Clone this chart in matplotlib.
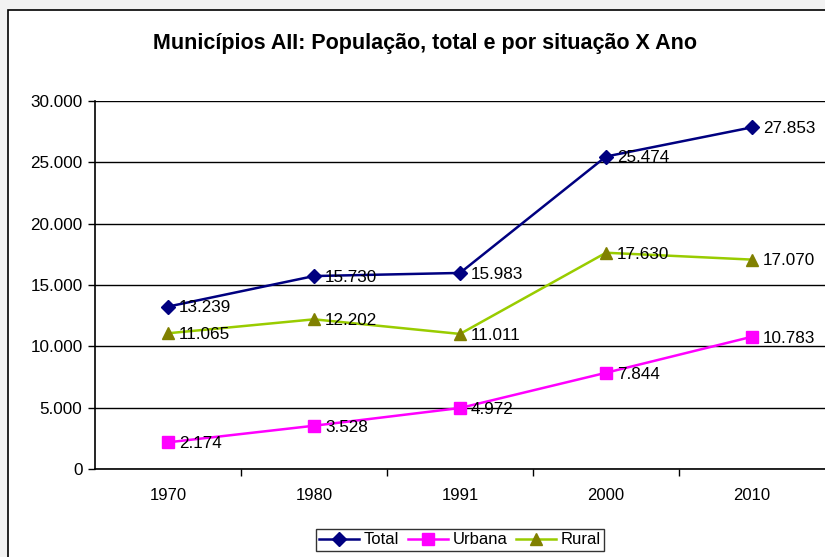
# =========================
# Municípios AII: população por situação
# =========================

import matplotlib.pyplot as plt
from matplotlib.patches import Rectangle

plt.rcParams["font.family"] = ["Liberation Sans", "DejaVu Sans"]

# Data
anos = ["1970", "1980", "1991", "2000", "2010"]
total = [13239, 15730, 15983, 25474, 27853]
urbana = [2174, 3528, 4972, 7844, 10783]
rural = [11065, 12202, 11011, 17630, 17070]


def fmt(v):
    return f"{v:,}".replace(",", ".")


fig = plt.figure(figsize=(8.25, 5.57), dpi=100)
fig.patch.set_facecolor("#f2f2f2")

# Outer chart frame
fig.patches.append(Rectangle((8 / 825, -0.05), 1.1, 1 - 10 / 557 + 0.05,
                             transform=fig.transFigure, facecolor="white",
                             edgecolor="black", linewidth=1.2, zorder=-10))

ax = fig.add_axes([95 / 825, 1 - 469 / 557, 730 / 825, 368 / 557])
ax.set_facecolor("white")

x = list(range(len(anos)))

ax.plot(x, total, color="#000080", marker="D", markersize=7, linewidth=1.8,
        label="Total", zorder=3)
ax.plot(x, urbana, color="#ff00ff", marker="s", markersize=8, linewidth=1.8,
        label="Urbana", zorder=3)
ax.plot(x, rural, color="#99cc00", marker="^", markersize=9, linewidth=1.8,
        markerfacecolor="#808000", markeredgecolor="#808000",
        label="Rural", zorder=3)

for serie in (total, urbana, rural):
    for xi, v in zip(x, serie):
        ax.annotate(fmt(v), (xi, v), xytext=(8, -1), textcoords="offset points",
                    ha="left", va="center", fontsize=12.3, zorder=4)

# Axes
ax.set_xlim(-0.5, len(anos) - 0.5)
ax.set_ylim(0, 30000)
ax.set_yticks(range(0, 30001, 5000))
ax.set_yticklabels([fmt(v) for v in range(0, 30001, 5000)], fontsize=12.3)
ax.set_xticks(x)
ax.set_xticklabels(anos, fontsize=12)
ax.tick_params(axis="x", length=0, pad=14)
ax.set_xticks([i + 0.5 for i in x[:-1]], minor=True)
ax.tick_params(axis="x", which="minor", length=5, width=1, color="black")
ax.tick_params(axis="y", length=5, width=1, pad=4)
ax.yaxis.grid(True, color="black", linewidth=1)
ax.set_axisbelow(True)

for s in ["top", "right"]:
    ax.spines[s].set_visible(False)
ax.spines["left"].set_linewidth(1.2)
ax.spines["bottom"].set_linewidth(1.2)

fig.text(0.515, 1 - 43 / 557, "Municípios AII: População, total e por situação X Ano",
         ha="center", va="center", fontsize=15.5, fontweight="bold")

leg = fig.legend(loc="center", bbox_to_anchor=(460 / 825, 1 - 540 / 557), ncol=3,
                 fontsize=12, frameon=True, fancybox=False, edgecolor="black",
                 handlelength=2.4, handletextpad=0.3, columnspacing=0.5,
                 borderpad=0.2)
leg.get_frame().set_linewidth(1)

fig.savefig("out.png", dpi=100, facecolor=fig.get_facecolor())
